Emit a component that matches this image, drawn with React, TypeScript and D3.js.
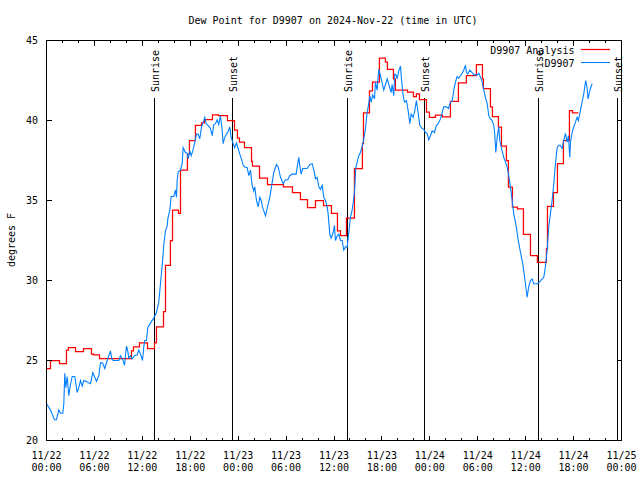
import React from "react";
import * as d3 from "d3";

const TITLE = "Dew Point for D9907 on 2024-Nov-22 (time in UTC)";
const Y_LABEL = "degrees F";
const START_ISO = "2024-11-22T00:00:00Z";
const END_ISO = "2024-11-25T00:00:00Z";
const Y_DOMAIN: [number, number] = [20, 45];
const Y_TICKS = [20, 25, 30, 35, 40, 45];
const SERIES_NAMES = ["D9907 Analysis", "D9907"];
const SERIES_COLORS = ["#ff0000", "#0080ff"];

// Sun events (UTC)
const SUN_EVENTS: [string, string][] = [
  ["Sunrise", "2024-11-22T13:34:00Z"],
  ["Sunset", "2024-11-22T23:19:00Z"],
  ["Sunrise", "2024-11-23T13:38:00Z"],
  ["Sunset", "2024-11-23T23:22:00Z"],
  ["Sunrise", "2024-11-24T13:38:00Z"],
  ["Sunset", "2024-11-24T23:27:00Z"],
];

// Analysis (step series): [hours since 11/22 00:00 UTC, dew point °F]
const ANALYSIS: [number, number][] = [
  [0.0, 24.5], [0.5, 25.0], [1.63, 24.8], [2.5, 25.65], [2.75, 25.8], [3.63, 25.55],
  [4.63, 25.75], [5.63, 25.4], [5.88, 25.35], [6.64, 25.12], [10.64, 25.6], [10.89, 25.85],
  [11.64, 26.1], [12.65, 25.75], [13.52, 26.1], [13.77, 27.1], [14.65, 28.05], [14.9, 30.95],
  [15.52, 32.5], [15.78, 34.4], [16.53, 34.2], [16.78, 36.9], [17.65, 37.9], [17.9, 38.75],
  [18.65, 39.7], [19.41, 39.85], [19.78, 40.05], [20.78, 40.35], [21.53, 40.3], [22.66, 40.0],
  [23.54, 39.4], [23.91, 38.9], [24.16, 38.65], [24.79, 38.3], [25.67, 37.45], [25.79, 37.15],
  [26.67, 36.4], [27.67, 36.0], [29.67, 35.85], [30.8, 35.5], [31.8, 35.05], [32.68, 34.55],
  [33.68, 35.0], [34.68, 34.68], [35.68, 34.2], [36.43, 33.1], [36.81, 32.8], [37.56, 33.9],
  [38.56, 37.0], [39.56, 38.55], [39.69, 40.48], [40.44, 41.85], [40.82, 42.4], [41.69, 43.9],
  [42.44, 43.65], [42.69, 43.2], [43.44, 42.6], [43.69, 41.9], [45.2, 41.77], [45.95, 41.5],
  [46.32, 41.67], [46.7, 41.3], [47.58, 40.52], [47.95, 40.2], [48.7, 40.33], [49.58, 40.23],
  [50.58, 41.2], [51.58, 42.35], [52.58, 42.8], [53.83, 43.5], [54.59, 42.6], [54.71, 42.0],
  [55.59, 40.85], [55.84, 40.25], [56.59, 39.58], [56.97, 38.4], [57.59, 37.5], [57.84, 35.83],
  [58.34, 34.58], [58.97, 34.48], [59.72, 32.88], [60.6, 31.55], [61.47, 31.13], [62.6, 32.0],
  [62.73, 34.63], [63.48, 35.5], [63.98, 37.3], [64.73, 38.75], [65.48, 40.62], [65.86, 40.48],
  [66.61, 40.48],
];

// Observations: [hours since 11/22 00:00 UTC, dew point °F]
const OBSERVED: [number, number][] = [
  [0.0, 22.3], [0.5, 21.9], [1.0, 21.3], [1.25, 21.3], [1.54, 21.9], [1.75, 21.7], [2.04, 21.7],
  [2.17, 22.3], [2.29, 24.2], [2.42, 23.3], [2.59, 24.0], [2.79, 22.8], [3.0, 23.5], [3.22, 24.0],
  [3.54, 24.0], [3.84, 23.0], [4.04, 23.3], [4.26, 23.75], [4.47, 23.4], [4.67, 23.75], [5.1, 23.65],
  [5.51, 23.55], [5.8, 24.25], [6.05, 23.95], [6.26, 23.7], [6.55, 24.05], [6.76, 24.85], [7.01, 24.85],
  [7.3, 24.5], [7.6, 25.0], [8.01, 25.6], [8.18, 25.1], [8.35, 25.0], [9.05, 25.0], [9.26, 25.3],
  [9.55, 25.05], [9.77, 24.7], [10.02, 25.9], [10.18, 25.6], [10.3, 25.15], [10.52, 25.3], [10.73, 25.1],
  [11.02, 25.3], [11.36, 25.35], [11.56, 25.65], [11.77, 25.4], [12.02, 25.0], [12.18, 25.85],
  [12.31, 26.25], [12.52, 26.25], [12.68, 27.05], [13.02, 27.35], [13.43, 27.65], [13.77, 28.0],
  [14.06, 28.65], [14.27, 29.8], [14.49, 30.95], [14.61, 31.7], [14.69, 32.3], [14.9, 33.1],
  [15.11, 33.4], [15.19, 33.85], [15.44, 34.4], [15.61, 35.25], [15.94, 35.25], [16.15, 35.65],
  [16.28, 35.2], [16.36, 36.25], [16.49, 36.8], [16.78, 36.9], [16.99, 37.3], [17.11, 38.3],
  [17.4, 38.0], [17.62, 37.95], [17.74, 37.6], [17.94, 38.1], [18.12, 37.8], [18.32, 38.1],
  [18.53, 38.55], [18.78, 39.15], [18.99, 39.15], [19.19, 38.85], [19.41, 39.6], [19.62, 39.9],
  [19.82, 40.2], [19.99, 39.8], [20.32, 39.65], [20.53, 39.5], [20.75, 39.05], [20.95, 39.75],
  [21.16, 39.8], [21.37, 40.05], [21.57, 39.75], [21.78, 40.3], [22.0, 39.4], [22.12, 38.55],
  [22.29, 38.9], [22.54, 39.15], [22.7, 39.25], [22.95, 39.6], [23.12, 38.95], [23.38, 38.55],
  [23.57, 38.3], [23.79, 38.6], [24.0, 38.25], [24.2, 37.9], [24.41, 37.6], [24.63, 37.2],
  [24.83, 37.1], [25.13, 37.05], [25.33, 36.55], [25.54, 36.9], [25.75, 35.95], [25.95, 35.6],
  [26.08, 35.85], [26.29, 35.0], [26.5, 34.6], [26.71, 35.2], [26.88, 35.0], [27.04, 34.6],
  [27.21, 34.35], [27.42, 34.05], [27.63, 34.5], [27.96, 35.2], [28.17, 35.85], [28.46, 36.75],
  [28.8, 37.25], [29.01, 37.1], [29.3, 36.45], [29.63, 36.05], [29.92, 36.3], [30.21, 36.3],
  [30.46, 36.55], [30.76, 36.65], [31.26, 36.65], [31.46, 37.3], [31.59, 37.7], [31.71, 37.2],
  [31.89, 36.65], [32.09, 37.0], [32.64, 37.0], [32.97, 37.25], [33.27, 37.3], [33.47, 36.9],
  [33.68, 36.35], [33.89, 36.45], [34.09, 35.85], [34.3, 35.7], [34.52, 35.95], [34.72, 35.2],
  [34.93, 35.0], [35.14, 34.6], [35.27, 34.15], [35.47, 32.9], [35.64, 32.65], [35.89, 33.0],
  [36.06, 33.45], [36.18, 32.5], [36.4, 32.8], [36.6, 32.9], [36.81, 32.5], [37.02, 32.5],
  [37.22, 31.9], [37.43, 32.1], [37.65, 32.1], [37.85, 33.0], [38.06, 33.95], [38.27, 34.4],
  [38.44, 35.0], [38.59, 35.7], [38.72, 37.0], [38.9, 37.4], [39.1, 37.8], [39.31, 38.0],
  [39.52, 38.35], [39.73, 38.85], [39.94, 39.5], [40.15, 40.5], [40.35, 41.05], [40.48, 41.55],
  [40.65, 41.15], [40.85, 41.6], [41.07, 41.35], [41.19, 42.4], [41.4, 41.9], [41.6, 43.2],
  [41.82, 42.8], [42.03, 42.35], [42.23, 41.9], [42.44, 42.25], [42.66, 42.6], [42.86, 42.25],
  [43.16, 41.75], [43.28, 42.25], [43.48, 41.55], [43.61, 42.9], [43.78, 42.85], [43.91, 42.6],
  [44.11, 43.1], [44.32, 43.4], [44.45, 42.6], [44.66, 41.55], [44.82, 41.15], [45.07, 41.25],
  [45.29, 40.6], [45.49, 39.8], [45.66, 40.4], [45.91, 40.2], [46.11, 40.6], [46.32, 41.25],
  [46.53, 40.5], [46.74, 39.7], [47.04, 39.5], [47.24, 39.45], [47.45, 39.25], [47.66, 39.2],
  [47.86, 38.8], [48.08, 39.05], [48.29, 39.35], [48.58, 39.25], [48.83, 39.7], [49.04, 39.8],
  [49.33, 40.1], [49.74, 40.85], [50.08, 40.85], [50.33, 40.75], [50.58, 41.15], [50.79, 41.2],
  [51.0, 41.9], [51.21, 42.4], [51.42, 42.75], [51.62, 42.65], [51.84, 42.8], [52.05, 42.95],
  [52.25, 43.15], [52.46, 43.45], [52.59, 43.0], [52.75, 42.9], [53.0, 43.15], [53.3, 43.0],
  [53.5, 42.85], [53.93, 42.85], [54.13, 42.95], [54.34, 42.7], [54.55, 42.45], [54.67, 42.1],
  [54.96, 41.45], [55.18, 41.05], [55.38, 40.3], [55.59, 40.1], [55.8, 40.0], [56.01, 39.7],
  [56.13, 39.15], [56.26, 38.0], [56.43, 38.95], [56.63, 39.6], [56.76, 38.75], [57.05, 38.1],
  [57.25, 37.7], [57.47, 37.4], [57.68, 37.1], [57.88, 36.55], [58.09, 35.85], [58.31, 35.0],
  [58.51, 34.15], [58.72, 33.65], [58.84, 33.3], [59.01, 32.7], [59.22, 32.1], [59.43, 31.55],
  [59.63, 31.05], [59.76, 30.6], [59.97, 29.8], [60.18, 28.95], [60.38, 29.6], [60.6, 30.0],
  [60.81, 30.1], [61.01, 29.8], [61.43, 29.8], [61.64, 29.85], [62.06, 30.1], [62.27, 30.2],
  [62.47, 30.85], [62.69, 31.9], [62.89, 33.35], [63.1, 34.15], [63.31, 35.0], [63.52, 36.05],
  [63.73, 37.3], [63.94, 38.3], [64.14, 38.45], [64.35, 38.45], [64.56, 38.25], [64.77, 38.75],
  [64.98, 39.2], [65.19, 38.65], [65.36, 39.05], [65.52, 37.7], [65.61, 38.65], [65.82, 39.25],
  [66.02, 39.6], [66.23, 39.9], [66.44, 40.2], [66.6, 40.0], [66.77, 40.4], [66.94, 40.85],
  [67.11, 41.25], [67.27, 41.65], [67.4, 42.1], [67.52, 42.5], [67.7, 42.0], [67.82, 41.35],
  [67.98, 41.75], [68.11, 42.0], [68.32, 42.3],
];

const FONT = "'DejaVu Sans Mono', 'Liberation Mono', monospace";

export default function App() {
  const W = 640;
  const H = 480;
  const left = 46.5, right = 621.5, top = 40.5, bottom = 440.5;
  const start = new Date(START_ISO);
  const end = new Date(END_ISO);
  const x = d3.scaleUtc().domain([start, end]).range([left, right]);
  const y = d3.scaleLinear().domain(Y_DOMAIN).range([bottom, top]);
  const t = (h: number) => new Date(start.getTime() + h * 3600000);

  const redPath = d3
    .line<[number, number]>()
    .x((d) => x(t(d[0])))
    .y((d) => y(d[1]))
    .curve(d3.curveStepAfter)(ANALYSIS) || "";
  const bluePath = d3
    .line<[number, number]>()
    .x((d) => x(t(d[0])))
    .y((d) => y(d[1]))(OBSERVED) || "";

  const minorTicks = x.ticks(d3.utcHour.every(2) as any);
  const majorTicks = x.ticks(d3.utcHour.every(6) as any);
  const fmtDate = d3.utcFormat("%m/%d");
  const fmtTime = d3.utcFormat("%H:%M");
  const snap = (v: number) => Math.round(v - 0.5) + 0.5;

  return (
    <svg
      width={W}
      height={H}
      style={{ position: "fixed", left: 0, top: 0, background: "#fff" }}
      fontFamily={FONT}
      fontSize={10}
    >
      <rect x={0} y={0} width={W} height={H} fill="#fff" />
      <text x={333} y={23.5} textAnchor="middle" fill="#000">
        {TITLE}
      </text>
      <text
        transform={`translate(14.5,240) rotate(-90)`}
        textAnchor="middle"
        fill="#000"
      >
        {Y_LABEL}
      </text>

      {/* sun events */}
      {SUN_EVENTS.map(([label, iso], i) => {
        const lx = snap(x(new Date(iso)));
        return (
          <g key={"sun" + i}>
            <line x1={lx} x2={lx} y1={98} y2={bottom} stroke="#000" strokeWidth={1} shapeRendering="crispEdges" />
            <text transform={`translate(${lx + 4},92) rotate(-90)`} textAnchor="start" fill="#000">
              {label}
            </text>
          </g>
        );
      })}

      {/* data */}
      <path d={redPath} fill="none" stroke={SERIES_COLORS[0]} strokeWidth={1.25} />
      <path d={bluePath} fill="none" stroke={SERIES_COLORS[1]} strokeWidth={1.1} />

      {/* frame */}
      <rect x={left} y={top} width={right - left} height={bottom - top} fill="none" stroke="#000" strokeWidth={1} shapeRendering="crispEdges" />

      {/* x ticks */}
      {minorTicks.map((d, i) => {
        const isMajor = d.getUTCHours() % 6 === 0;
        const len = isMajor ? 5 : 2.5;
        const tx = snap(x(d));
        return (
          <g key={"xt" + i}>
            <line x1={tx} x2={tx} y1={bottom} y2={bottom - len} stroke="#000" shapeRendering="crispEdges" />
            <line x1={tx} x2={tx} y1={top} y2={top + len} stroke="#000" shapeRendering="crispEdges" />
          </g>
        );
      })}
      {majorTicks.map((d, i) => (
        <text key={"xl" + i} x={x(d)} y={458.5} textAnchor="middle" fill="#000">
          <tspan x={x(d)}>{fmtDate(d)}</tspan>
          <tspan x={x(d)} dy={12}>{fmtTime(d)}</tspan>
        </text>
      ))}

      {/* y ticks */}
      {Y_TICKS.map((v) => {
        const ty = snap(y(v));
        return (
          <g key={"yt" + v}>
            <line x1={left} x2={left + 5} y1={ty} y2={ty} stroke="#000" shapeRendering="crispEdges" />
            <line x1={right} x2={right - 5} y1={ty} y2={ty} stroke="#000" shapeRendering="crispEdges" />
            <text x={38} y={ty + 3.7} textAnchor="end" fill="#000">
              {v}
            </text>
          </g>
        );
      })}

      {/* legend */}
      {SERIES_NAMES.map((name, i) => (
        <g key={"lg" + i}>
          <text x={574.5} y={54 + i * 13} textAnchor="end" fill="#000">
            {name}
          </text>
          <line x1={581} x2={610} y1={49.5 + i * 13} y2={49.5 + i * 13} stroke={SERIES_COLORS[i]} strokeWidth={i === 0 ? 1.25 : 1.1} />
        </g>
      ))}
    </svg>
  );
}
